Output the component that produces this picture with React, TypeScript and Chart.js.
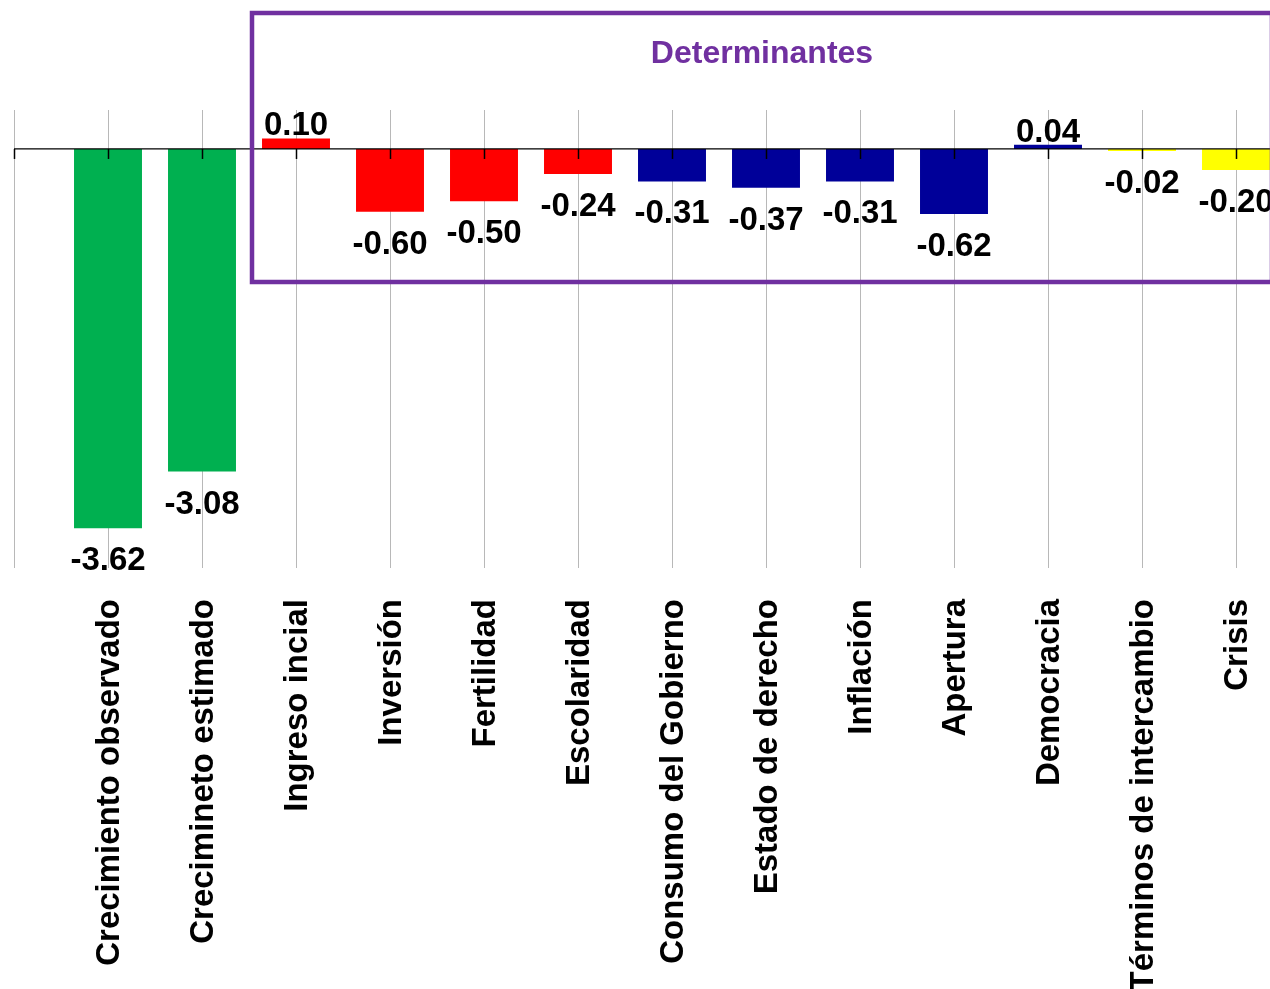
import React, { useEffect, useRef } from "react";
import { Chart, registerables } from "chart.js";

Chart.register(...registerables);

// ---- data ----
const categories: string[] = [
  "",
  "Crecimiento observado",
  "Crecimineto estimado",
  "Ingreso incial",
  "Inversión",
  "Fertilidad",
  "Escolaridad",
  "Consumo del Gobierno",
  "Estado de derecho",
  "Inflación",
  "Apertura",
  "Democracia",
  "Términos de intercambio",
  "Crisis",
  "",
];
const values: (number | null)[] = [
  null, -3.62, -3.08, 0.1, -0.6, -0.5, -0.24, -0.31, -0.37, -0.31, -0.62, 0.04, -0.02, -0.2, null,
];
const GREEN = "#00B050";
const RED = "#FF0000";
const NAVY = "#000099";
const YELLOW = "#FFFF00";
const barColors: string[] = [
  "transparent", GREEN, GREEN, RED, RED, RED, RED, NAVY, NAVY, NAVY, NAVY, NAVY, YELLOW, YELLOW, "transparent",
];
const boxTitle = "Determinantes";
const boxFirstIndex = 3; // first category inside the "Determinantes" box
const boxBottomValue = -1.27;
const Y_MIN = -4;
const Y_MAX = 0.372;

const CANVAS_W = 1340;
const CANVAS_H = 989;
const VISIBLE_W = 1270;
const FONT = '"Liberation Sans", Arial, Helvetica, sans-serif';
const PURPLE = "#7030A0";

const overlayPlugin = {
  id: "overlay",
  afterDatasetsDraw(chart: any) {
    const { ctx, chartArea } = chart;
    const x = chart.scales.x;
    const y = chart.scales.y;
    const y0 = y.getPixelForValue(0);
    ctx.save();

    // zero axis line
    ctx.strokeStyle = "#000";
    ctx.lineWidth = 1.3;
    ctx.beginPath();
    ctx.moveTo(chartArea.left, y0);
    ctx.lineTo(chartArea.right, y0);
    ctx.stroke();

    // tick marks
    ctx.lineWidth = 1.5;
    for (let i = 0; i < categories.length; i++) {
      const px = Math.round(x.getPixelForValue(i)) + 0.5;
      ctx.beginPath();
      ctx.moveTo(px, y0);
      ctx.lineTo(px, y0 + 10);
      ctx.stroke();
    }

    // value labels
    const meta = chart.getDatasetMeta(0);
    ctx.font = `bold 33px ${FONT}`;
    ctx.textAlign = "center";
    ctx.textBaseline = "alphabetic";
    ctx.fillStyle = "#000";
    meta.data.forEach((bar: any, i: number) => {
      const v = values[i];
      if (v == null) return;
      const txt = v.toFixed(2);
      const ty = v >= 0 ? bar.y - 3 : bar.y + 42;
      ctx.fillText(txt, bar.x, ty);
    });

    // Determinantes box
    const left = (x.getPixelForValue(boxFirstIndex - 1) + x.getPixelForValue(boxFirstIndex)) / 2 + 3;
    const right = VISIBLE_W + 2;
    const top = 13;
    const bottom = y.getPixelForValue(boxBottomValue);
    ctx.strokeStyle = PURPLE;
    ctx.lineWidth = 4.5;
    ctx.beginPath();
    ctx.rect(left, top, right - left, bottom - top);
    ctx.stroke();

    ctx.fillStyle = PURPLE;
    ctx.font = `bold 32px ${FONT}`;
    ctx.textBaseline = "middle";
    ctx.fillText(boxTitle, (left + right) / 2, 54);

    ctx.restore();
  },
};

export default function App() {
  const canvasRef = useRef<HTMLCanvasElement | null>(null);

  useEffect(() => {
    document.body.style.margin = "0";
    const canvas = canvasRef.current;
    if (!canvas) return;
    const chart = new Chart(canvas, {
      type: "bar",
      data: {
        labels: categories,
        datasets: [
          {
            data: values as any,
            backgroundColor: barColors,
            borderWidth: 0,
            categoryPercentage: 0.723,
            barPercentage: 1,
          },
        ],
      },
      options: {
        responsive: false,
        animation: false,
        layout: {
          autoPadding: false,
          padding: { left: 14, top: 110, right: 10, bottom: 0 },
        } as any,
        plugins: {
          legend: { display: false },
          tooltip: { enabled: false },
          title: { display: false },
        },
        scales: {
          x: {
            type: "category",
            offset: false,
            grid: {
              offset: false,
              color: "#B8B8B8",
              lineWidth: 1,
              drawTicks: false,
            },
            border: { display: false },
            ticks: {
              autoSkip: false,
              maxRotation: 90,
              minRotation: 90,
              padding: 31,
              labelOffset: 2,
              color: "#000",
              font: { family: FONT, size: 33, weight: "bold" },
            },
            afterFit(scale: any) {
              scale.height = CANVAS_H - 568;
              scale.paddingLeft = 0;
              scale.paddingRight = 0;
            },
          },
          y: {
            display: false,
            min: Y_MIN,
            max: Y_MAX,
          },
        },
      },
      plugins: [overlayPlugin],
    });
    return () => chart.destroy();
  }, []);

  return (
    <div style={{ width: VISIBLE_W, height: CANVAS_H, overflow: "hidden", background: "#fff" }}>
      <canvas
        ref={canvasRef}
        width={CANVAS_W}
        height={CANVAS_H}
        style={{ display: "block", width: CANVAS_W, height: CANVAS_H }}
      />
    </div>
  );
}
